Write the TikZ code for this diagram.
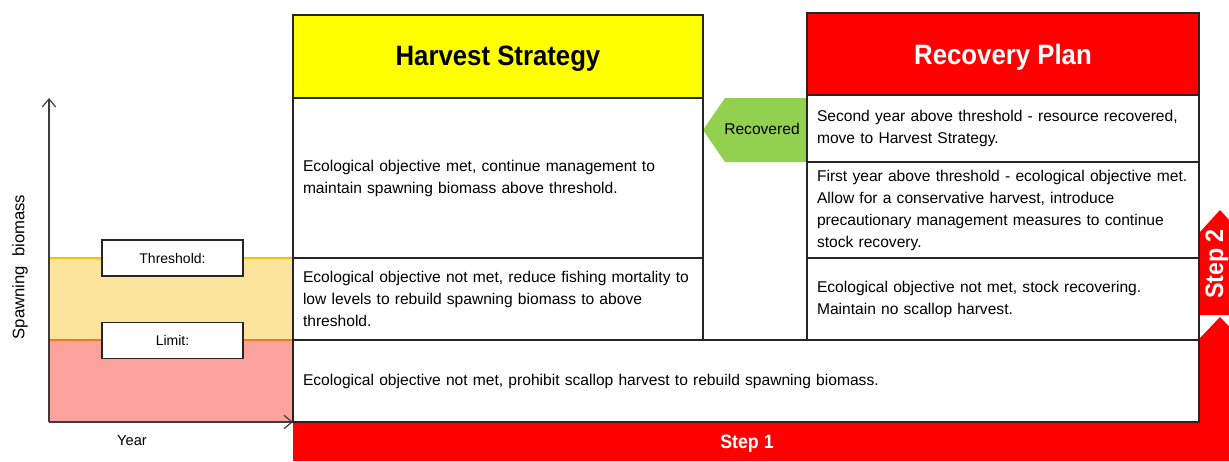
\documentclass[tikz,border=0pt]{standalone}
\usepackage{fontspec}
\setmainfont{Liberation Sans}
\newfontfamily\headfont[FakeStretch=0.92]{Liberation Sans}
\usetikzlibrary{arrows.meta}
\definecolor{hsyellow}{HTML}{FFFF00}
\definecolor{rpred}{HTML}{FF0000}
\definecolor{recgreen}{HTML}{92D050}
\definecolor{zonethr}{HTML}{FDE49C}
\definecolor{zonelim}{HTML}{FCA29C}
\definecolor{linethr}{HTML}{FFC000}
\definecolor{linelim}{HTML}{EE7A30}
\definecolor{rule}{HTML}{262626}
\newcommand{\bodysize}{\fontsize{11.7}{16.5}\selectfont}
\newcommand{\headsize}{\headfont\fontsize{21}{24}\selectfont\bfseries}
\tikzset{
  cell/.style={draw=rule, line width=0.9pt, fill=white, align=left,
    inner xsep=7.5pt, inner ysep=0pt, font=\bodysize},
  head/.style={draw=rule, line width=0.9pt, align=center, font=\headsize},
  tag/.style={draw=rule, line width=0.8pt, fill=white, font=\fontsize{10.5}{12}\selectfont,
    minimum width=105.75pt, minimum height=27pt, inner sep=0pt},
  axis/.style={draw=rule!90, line width=0.9pt, -{Straight Barb[length=6pt,width=10pt]}},
  steptext/.style={text=white, font=\headfont\fontsize{14.5}{17}\selectfont\bfseries}
}
\begin{document}
\begin{tikzpicture}[x=0.75pt,y=-0.75pt]
\useasboundingbox (0,0) rectangle (1229,461);
\clip (0,0) rectangle (1229,461);

% --- biomass chart on the left
\fill[zonethr] (49,258) rectangle (293,340);
\fill[zonelim] (49,340) rectangle (293,422);
\draw[linethr, line width=2.2pt] (49,258) -- (293,258);
\draw[linelim, line width=2.2pt] (49,340) -- (293,340);
\coordinate (origin) at (49,422);
\coordinate (ytop) at (49,98);
\coordinate (xend) at (293,422);
\draw[axis] (origin) -- (ytop);
\draw[axis] (origin) -- (xend);
\node[tag] (thr) at (172.5,258) {Threshold:};
\node[tag] (lim) at (172.5,340.5) {Limit:};
\node[rotate=90, font=\fontsize{12.5}{14}\selectfont] (ylab) at (20,267) {Spawning\ \ biomass};
\node[font=\fontsize{11}{13}\selectfont] (xlab) at (132,441) {Year};

% --- Step arrows along the bottom and right side
\fill[rpred] (293,461) -- (293,422) -- (1200,422) -- (1200,338) -- (1220,317)
  -- (1240,338) -- (1240,461) -- cycle;
\fill[rpred] (1200,315) -- (1200,232) -- (1220,210) -- (1240,232) -- (1240,315) -- cycle;
\node[steptext] (step1) at (747,444) {Step 1};
\node[steptext, rotate=90, font=\headfont\fontsize{19}{22}\selectfont\bfseries] (step2) at (1217,264) {Step 2};

% --- "Recovered" arrow back to the harvest strategy
\fill[recgreen] (703,130) -- (725,98) -- (810,98) -- (810,162) -- (725,162) -- cycle;
\node[font=\bodysize] (rec) at (762,129) {Recovered};

% --- Harvest Strategy column
\node[head, fill=hsyellow, minimum width=307.5pt, minimum height=62.25pt] (hs) at (498,56.5) {};
\node[font=\headsize] (hst) at (498,59) {Harvest Strategy};
\node[cell, text width=292.5pt, minimum height=120pt] (hs1) at (498,178)
  {Ecological objective met, continue management to\\maintain spawning biomass above threshold.};
\node[cell, text width=292.5pt, minimum height=61.5pt] (hs2) at (498,299)
  {Ecological objective not met, reduce fishing mortality to\\low levels to rebuild spawning biomass to above\\threshold.};

% --- Recovery Plan column
\node[head, fill=rpred, minimum width=294pt, minimum height=61.5pt] (rp) at (1003,54) {};
\node[font=\headsize, text=white] (rpt) at (1003,57) {Recovery Plan};
\node[cell, text width=279pt, minimum height=50.25pt] (rp1) at (1003,128.5)
  {Second year above threshold - resource recovered,\\move to Harvest Strategy.};
\node[cell, text width=279pt, minimum height=72pt] (rp2) at (1003,210)
  {First year above threshold - ecological objective met.\\Allow\ for a conservative harvest, introduce\\precautionary management measures to continue\\stock recovery.};
\node[cell, text width=279pt, minimum height=61.5pt] (rp3) at (1003,299)
  {Ecological objective not met, stock recovering.\\Maintain no scallop harvest.};

% --- bottom row spanning both columns
\node[cell, text width=664.5pt, minimum height=61.5pt] (base) at (746,381)
  {Ecological objective not met, prohibit scallop harvest to rebuild spawning biomass.};
\end{tikzpicture}
\end{document}
